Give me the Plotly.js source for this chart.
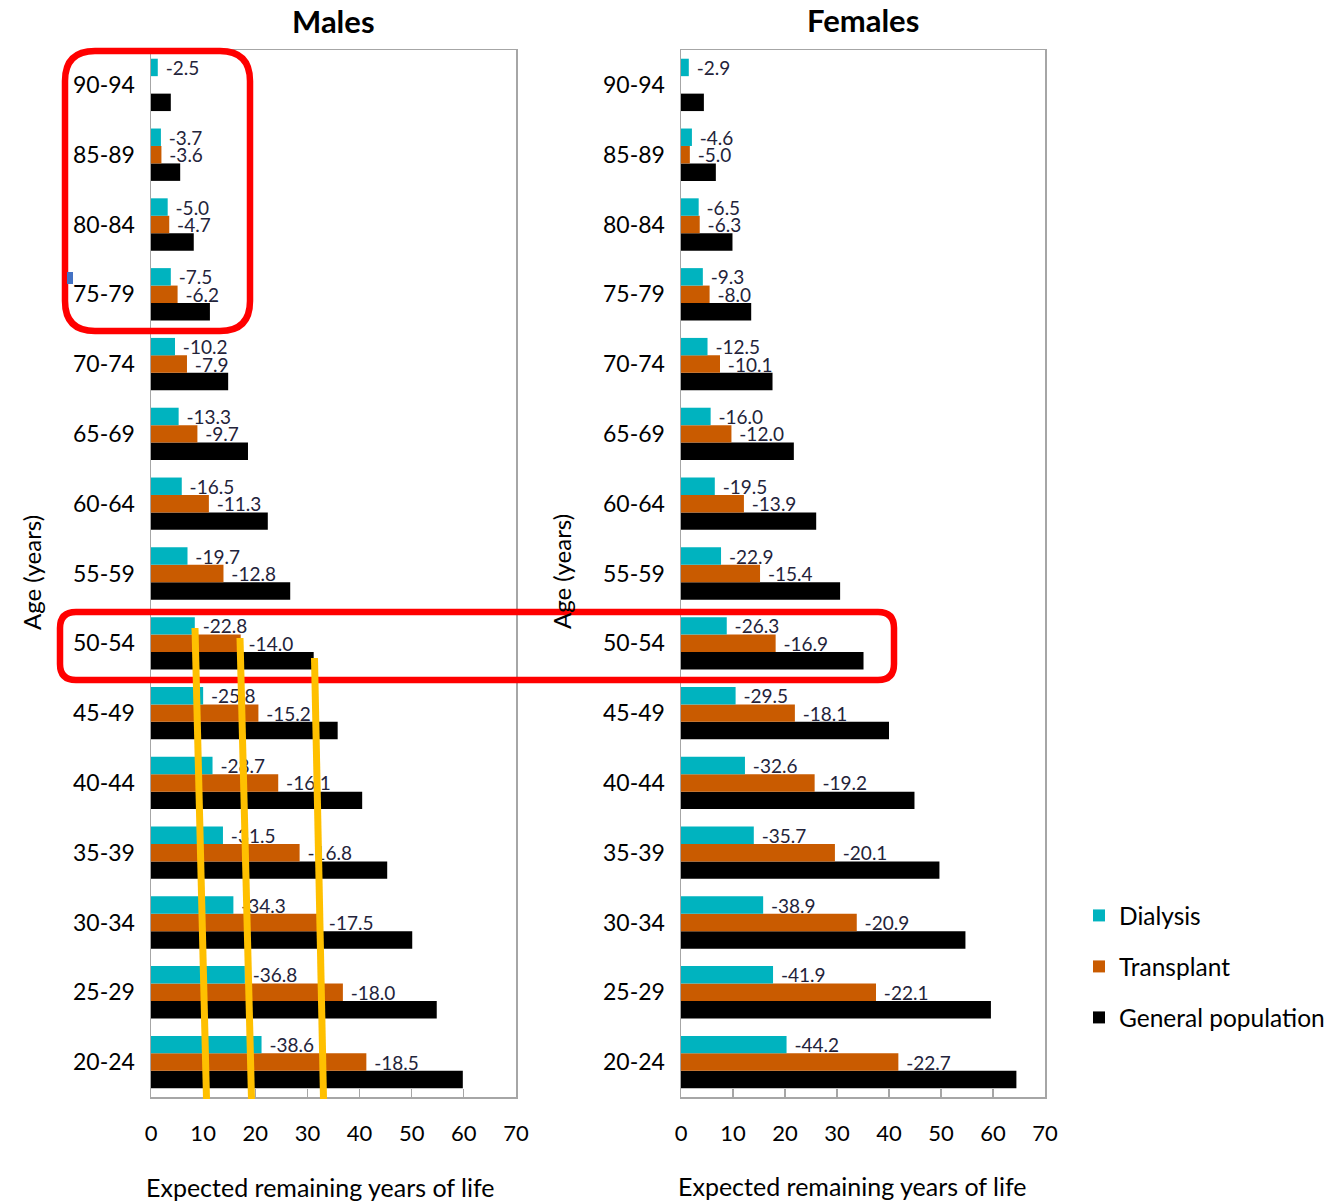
<!DOCTYPE html>
<html>
<head>
<meta charset="utf-8">
<script src="https://cdn.plot.ly/plotly-3.0.1.min.js"></script>
<style>html,body{margin:0;padding:0;background:#fff;}#chart{width:1335px;height:1201px;}</style>
</head>
<body>
<div id="chart"></div>
<script>
// ---------------- DATA ----------------
const ageGroups = ['20-24','25-29','30-34','35-39','40-44','45-49','50-54','55-59','60-64','65-69','70-74','75-79','80-84','85-89','90-94'];

// Males: expected remaining years of life
const maleGeneral    = [59.8, 54.8, 50.1, 45.3, 40.5, 35.8, 31.2, 26.7, 22.4, 18.6, 14.8, 11.3, 8.2, 5.6, 3.8];
const maleDialysis   = [21.2, 18.0, 15.8, 13.8, 11.8, 10.0, 8.4, 7.0, 5.9, 5.3, 4.6, 3.8, 3.2, 1.9, 1.3];
const maleTransplant = [41.3, 36.8, 32.6, 28.5, 24.4, 20.6, 17.2, 13.9, 11.1, 8.9, 6.9, 5.1, 3.5, 2.0, null];
// Male labels: difference vs general population
const maleDialysisLabels   = [-38.6, -36.8, -34.3, -31.5, -28.7, -25.8, -22.8, -19.7, -16.5, -13.3, -10.2, -7.5, -5.0, -3.7, -2.5];
const maleTransplantLabels = [-18.5, -18.0, -17.5, -16.8, -16.1, -15.2, -14.0, -12.8, -11.3, -9.7, -7.9, -6.2, -4.7, -3.6, null];

// Females: expected remaining years of life
const femaleGeneral    = [64.5, 59.6, 54.7, 49.7, 44.9, 40.0, 35.1, 30.6, 26.0, 21.7, 17.6, 13.5, 9.9, 6.7, 4.4];
const femaleDialysis   = [20.3, 17.7, 15.8, 14.0, 12.3, 10.5, 8.8, 7.7, 6.5, 5.7, 5.1, 4.2, 3.4, 2.1, 1.5];
const femaleTransplant = [41.8, 37.5, 33.8, 29.6, 25.7, 21.9, 18.2, 15.2, 12.1, 9.7, 7.5, 5.5, 3.6, 1.7, null];
const femaleDialysisLabels   = [-44.2, -41.9, -38.9, -35.7, -32.6, -29.5, -26.3, -22.9, -19.5, -16.0, -12.5, -9.3, -6.5, -4.6, -2.9];
const femaleTransplantLabels = [-22.7, -22.1, -20.9, -20.1, -19.2, -18.1, -16.9, -15.4, -13.9, -12.0, -10.1, -8.0, -6.3, -5.0, null];

const xTicks = [0, 10, 20, 30, 40, 50, 60, 70];
const seriesNames = ['Dialysis', 'Transplant', 'General population'];

// ---------------- STYLE ----------------
const W = 1335, H = 1201;
const px = x => x / W;
const py = y => 1 - y / H;
const FONT = 'Lato, Carlito, Calibri, "Open Sans", sans-serif';
const C_DIA = '#00b3bf', C_TRA = '#c95b00', C_GEN = '#000000';
const LABEL_COLOR = '#23233a';

function fmt(arr) { return arr.map(v => v === null ? '' : '\u00a0' + v.toFixed(1)); }

function barTrace(x, color, name, xa, ya, text, showlegend, legendId) {
  const t = {
    type: 'bar', orientation: 'h', x: x, y: ageGroups, name: name,
    xaxis: xa, yaxis: ya,
    marker: {color: color, line: {width: 0}},
    text: text, textposition: text ? 'outside' : 'none',
    textfont: {family: FONT, size: 19, color: LABEL_COLOR},
    constraintext: 'none', cliponaxis: false,
    showlegend: showlegend, hoverinfo: 'x+y+name'
  };
  if (legendId) t.legend = legendId;
  return t;
}

const data = [
  barTrace(maleGeneral, C_GEN, seriesNames[2], 'x', 'y', null, true, 'legend3'),
  barTrace(maleTransplant, C_TRA, seriesNames[1], 'x', 'y', fmt(maleTransplantLabels), true, 'legend2'),
  barTrace(maleDialysis, C_DIA, seriesNames[0], 'x', 'y', fmt(maleDialysisLabels), true, 'legend'),
  barTrace(femaleGeneral, C_GEN, seriesNames[2], 'x2', 'y2', null, false, null),
  barTrace(femaleTransplant, C_TRA, seriesNames[1], 'x2', 'y2', fmt(femaleTransplantLabels), false, null),
  barTrace(femaleDialysis, C_DIA, seriesNames[0], 'x2', 'y2', fmt(femaleDialysisLabels), false, null)
];

const AXC = '#a6a6a6';
function xAxis(domain, anchor) {
  return {
    domain: domain, anchor: anchor, range: [0, 70], tickvals: xTicks,
    ticks: 'inside', ticklen: 8, tickcolor: AXC, tickwidth: 1.2,
    showline: true, linecolor: AXC, linewidth: 1.5, mirror: true,
    showgrid: false, zeroline: false, fixedrange: true,
    tickfont: {family: FONT, size: 22, color: '#000'},
    ticklabelstandoff: 16
  };
}
function yAxis(domain, anchor) {
  return {
    domain: domain, anchor: anchor, type: 'category',
    categoryorder: 'array', categoryarray: ageGroups,
    showline: true, linecolor: AXC, linewidth: 1.5, mirror: true,
    ticks: '', showgrid: false, zeroline: false, fixedrange: true,
    tickfont: {family: FONT, size: 23, color: '#000'},
    ticklabelstandoff: 10
  };
}

const yDom = [py(1097), py(50)];

function rrect(x1, y1, x2, y2, r) {
  const P = (x, y) => px(x) + ',' + py(y);
  return 'M' + P(x1 + r, y1) + ' L' + P(x2 - r, y1) +
    ' Q' + P(x2, y1) + ' ' + P(x2, y1 + r) +
    ' L' + P(x2, y2 - r) +
    ' Q' + P(x2, y2) + ' ' + P(x2 - r, y2) +
    ' L' + P(x1 + r, y2) +
    ' Q' + P(x1, y2) + ' ' + P(x1, y2 - r) +
    ' L' + P(x1, y1 + r) +
    ' Q' + P(x1, y1) + ' ' + P(x1 + r, y1) + ' Z';
}

const RED = '#ff0000', YEL = '#ffc000';
const shapes = [
  {type: 'path', xref: 'paper', yref: 'paper', path: rrect(65, 51, 250, 331, 30), line: {color: RED, width: 6.5}, layer: 'above'},
  {type: 'path', xref: 'paper', yref: 'paper', path: rrect(60, 612, 894, 680, 16), line: {color: RED, width: 6.5}, layer: 'above'},
  {type: 'line', xref: 'paper', yref: 'paper', x0: px(195), y0: py(628), x1: px(206.5), y1: py(1099), line: {color: YEL, width: 7}, layer: 'above'},
  {type: 'line', xref: 'paper', yref: 'paper', x0: px(240), y0: py(638), x1: px(251.5), y1: py(1099), line: {color: YEL, width: 7}, layer: 'above'},
  {type: 'line', xref: 'paper', yref: 'paper', x0: px(314.5), y0: py(658), x1: px(323.5), y1: py(1099), line: {color: YEL, width: 7}, layer: 'above'},
  {type: 'rect', xref: 'paper', yref: 'paper', x0: px(67), y0: py(272), x1: px(73), y1: py(284), fillcolor: '#4472c4', line: {width: 0}, layer: 'above'}
];

const annotations = [
  {text: 'Males', x: px(333), y: py(21), xref: 'paper', yref: 'paper', showarrow: false, xanchor: 'center', yanchor: 'middle', font: {family: FONT, size: 31, color: '#000', weight: 700}},
  {text: 'Females', x: px(863), y: py(20), xref: 'paper', yref: 'paper', showarrow: false, xanchor: 'center', yanchor: 'middle', font: {family: FONT, size: 31, color: '#000', weight: 700}},
  {text: 'Age (years)', x: px(31), y: py(572), xref: 'paper', yref: 'paper', showarrow: false, textangle: -90, xanchor: 'center', yanchor: 'middle', font: {family: FONT, size: 24, color: '#000'}},
  {text: 'Age (years)', x: px(561), y: py(572), xref: 'paper', yref: 'paper', showarrow: false, textangle: -90, xanchor: 'center', yanchor: 'middle', font: {family: FONT, size: 24, color: '#000'}},
  {text: 'Expected remaining years of life', x: px(320), y: py(1187), xref: 'paper', yref: 'paper', showarrow: false, xanchor: 'center', yanchor: 'middle', font: {family: FONT, size: 25, color: '#000'}},
  {text: 'Expected remaining years of life', x: px(852), y: py(1186), xref: 'paper', yref: 'paper', showarrow: false, xanchor: 'center', yanchor: 'middle', font: {family: FONT, size: 25, color: '#000'}}
];

function legendAt(topY) {
  return {
    x: px(1079), y: py(topY), xanchor: 'left', yanchor: 'top',
    font: {family: FONT, size: 24.5, color: '#000'},
    bgcolor: 'rgba(0,0,0,0)', borderwidth: 0, itemwidth: 30
  };
}

const layout = {
  width: W, height: H,
  margin: {l: 0, r: 0, t: 0, b: 0, pad: 0, autoexpand: false},
  paper_bgcolor: '#fff', plot_bgcolor: '#fff',
  barmode: 'group', bargap: 0.25, bargroupgap: 0,
  xaxis: xAxis([px(151), px(516)], 'y'),
  yaxis: yAxis(yDom, 'x'),
  xaxis2: xAxis([px(681), px(1045)], 'y2'),
  yaxis2: yAxis(yDom, 'x2'),
  showlegend: true,
  legend: legendAt(893),
  legend2: legendAt(944),
  legend3: legendAt(995),
  shapes: shapes,
  annotations: annotations,
  font: {family: FONT}
};

Plotly.newPlot('chart', data, layout, {displayModeBar: false, staticPlot: true});
</script>
</body>
</html>
